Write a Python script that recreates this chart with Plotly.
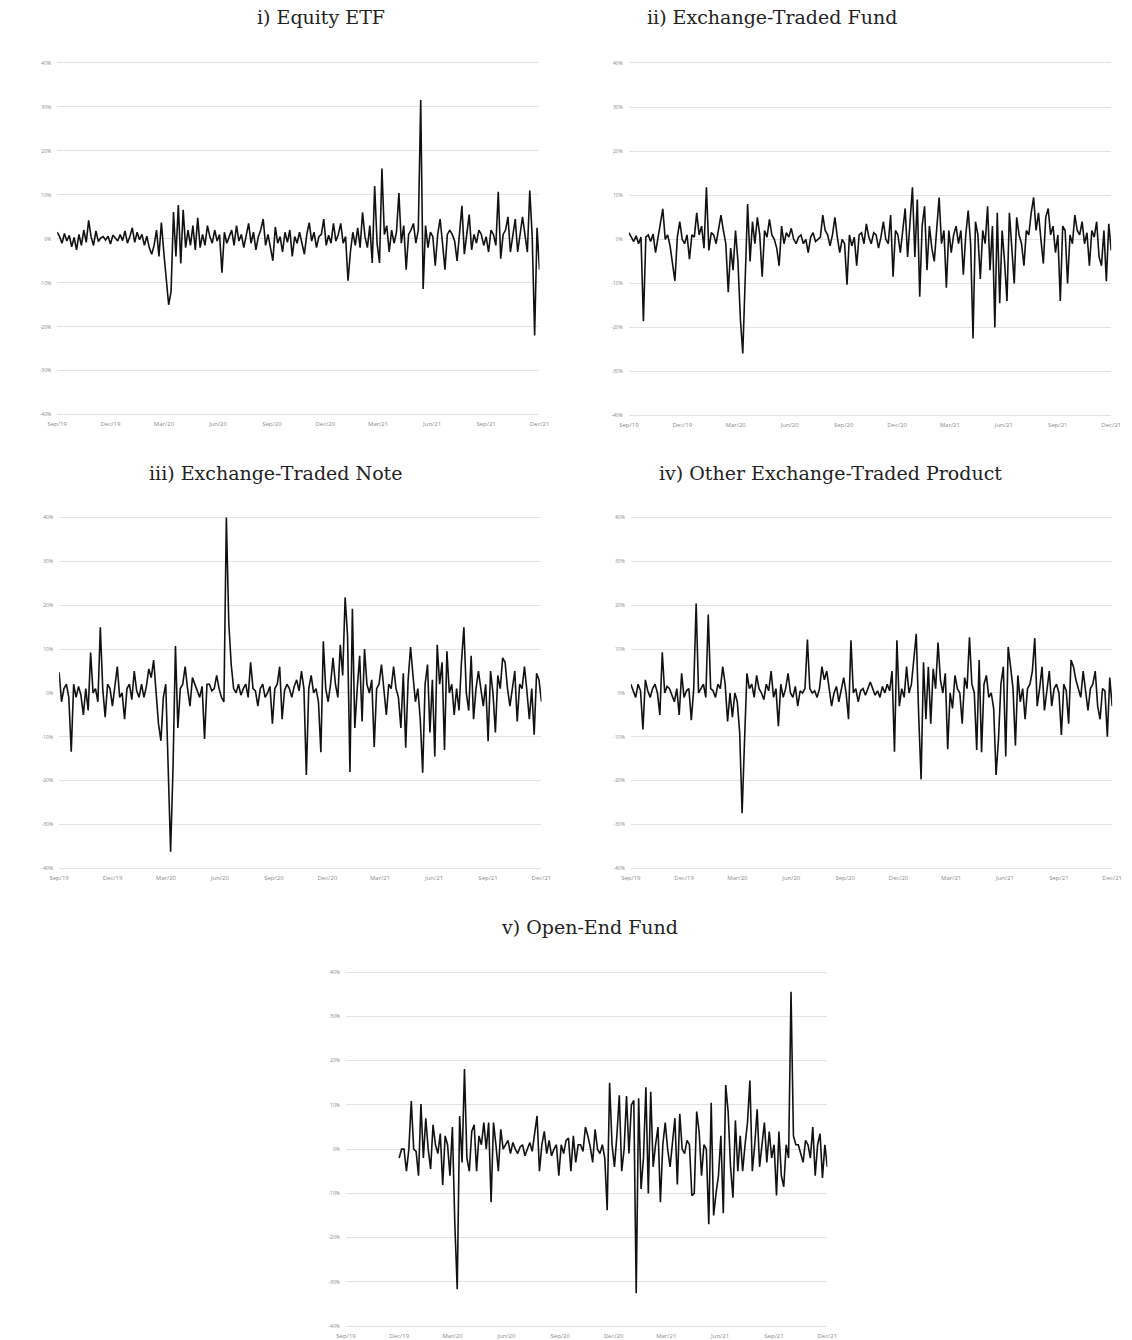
import pandas as pd
import plotly.graph_objects as go

# ---------------- data (daily-ish returns, %) ----------------
equity_etf = [
    1.5, 0.5, -1.0, 1.2, -0.5, 0.8, -1.8, 0.3, -2.5, 1.0,
    -1.5, 2.0, -0.8, 4.2, 0.5, -1.5, 1.8, -0.6, 0.2, 0.5,
    -0.3, 0.6, -1.2, 0.8, 0.2, -0.5, 1.0, -0.4, 1.8, -1.0,
    0.5, 2.5, -0.8, 1.5, -0.2, 1.0, -1.5, 0.6, -2.0, -3.5,
    -1.5, 2.0, -4.0, 3.7, -3.0, -10.0, -15.0, -12.0, 6.1, -4.0,
    7.7, -5.6, 6.6, -2.0, 2.0, -1.5, 3.0, -2.5, 4.8, -2.0,
    1.0, -1.5, 3.0, 0.5, -1.0, 2.0, -0.5, 1.0, -7.7, 1.5,
    -1.0, 0.5, 2.0, -1.5, 3.0, -0.5, 1.0, -2.0, 0.8, 3.5,
    -1.0, 1.5, -2.5, 0.5, 2.0, 4.5, -1.5, 1.0, -2.0, -5.0,
    2.7, -1.0, 0.5, -3.0, 1.5, -0.8, 2.0, -4.0, 0.5, -1.0,
    1.5, -1.0, -3.5, 1.0, 3.7, -0.5, 1.5, -2.0, 0.5, 1.0,
    4.5, -1.5, 0.8, -1.0, 3.5, -0.5, 1.0, 3.5, -1.0, 0.5,
    -9.5, -3.0, 1.5, -1.5, 2.5, -2.0, 6.0, 0.5, -2.0, 3.0,
    -5.5, 12.0, -1.0, -5.5, 16.0, 1.0, 3.0, -3.0, 2.0, -1.0,
    1.5, 10.4, -1.0, 3.0, -7.0, 1.0, 2.0, 3.5, -1.0, 2.0,
    31.6, -11.4, 3.0, -2.0, 1.5, 0.5, -6.1, 1.0, 4.5, -1.0,
    -7.0, 1.0, 2.0, 1.0, -0.5, -5.0, 2.0, 7.5, -3.5, 1.0,
    5.5, -2.5, 1.0, -1.0, 2.0, 1.0, -1.5, 0.5, -3.0, 2.0,
    1.0, -1.5, 10.7, -4.5, 1.0, 2.0, 5.0, -3.0, 1.0, 4.5,
    -3.0, 1.0, 5.0, 1.0, -3.0, 11.0, 0.5, -22.0, 2.5, -7.0,
]

exchange_traded_fund = [
    1.5, 0.5, -0.5, 0.8, -1.0, 0.5, -18.6, 0.5, 1.0, -0.5,
    1.2, -3.0, 0.5, 3.5, 6.9, 0.0, 1.0, -1.5, -5.0, -9.4,
    0.5, 4.0, 0.0, -1.0, 1.0, -4.5, 1.0, 0.5, 6.0, 1.0,
    3.0, -2.0, 11.8, -2.5, 1.5, 1.0, -1.0, 2.0, 5.5, 2.0,
    -1.0, -12.0, -2.0, -7.0, 2.0, -5.0, -18.0, -25.9, -10.0, 8.0,
    -5.0, 4.0, -1.0, 5.0, 1.0, -8.5, 2.0, 0.5, 4.5, 1.0,
    0.0, -2.0, -6.0, 3.0, -1.0, 1.5, 0.5, 2.5, 0.0, -1.0,
    0.5, 1.0, -1.0, 0.0, -3.0, 0.5, 1.5, -0.5, 0.0, 0.5,
    5.5, 2.0, 1.0, -1.5, 1.0, 5.0, 0.5, -3.0, 0.0, -1.0,
    -10.3, 1.0, -1.5, 0.5, -6.0, 1.0, 1.5, -1.0, 3.5, 0.5,
    -1.0, 1.5, 1.0, -2.0, 0.5, 4.0, 0.0, -1.0, 5.5, -8.5,
    2.0, 1.0, -3.0, 2.0, 7.0, -4.0, 4.0, 11.8, -4.0, 9.0,
    -13.0, 3.0, 7.5, -7.0, 3.0, -2.0, -5.0, 3.0, 9.5, -1.0,
    2.0, -11.0, 2.0, -3.0, 1.0, 3.0, -1.0, 2.0, -8.0, 1.0,
    6.5, -1.0, -22.5, 4.0, 1.0, -9.0, 2.0, -1.0, 7.5, -7.0,
    3.0, -20.0, 6.0, -14.5, 2.0, -5.0, -14.0, 6.0, -2.0, -10.0,
    5.0, 1.0, -1.0, -6.0, 2.0, 1.0, 6.0, 9.5, 2.0, 6.0,
    0.0, -5.5, 5.0, 7.0, 1.0, 3.0, -3.0, 1.0, -14.0, 3.0,
    2.0, -10.0, 1.0, -1.0, 5.5, 2.0, 1.0, 4.0, -1.0, 1.5,
    -6.0, 2.0, 0.5, 4.0, -4.0, -6.0, 2.0, -9.5, 3.5, -2.5,
]

exchange_traded_note = [
    4.7, -2.0, 1.0, 2.0, -1.0, -13.4, 2.0, -1.0, 1.5, -0.5,
    -5.0, 1.0, -4.0, 9.2, 0.0, 1.0, -2.0, 15.0, 1.0, -5.5,
    2.0, 1.0, -3.0, 1.0, 6.0, -1.0, 0.0, -6.0, 1.0, 2.0,
    -1.5, 5.0, 0.5, -1.0, 2.0, -1.0, 1.5, 5.5, 3.5, 7.5,
    1.0, -7.0, -10.9, -1.0, 2.0, -16.0, -36.2, -17.0, 10.7, -8.0,
    1.0, 2.0, 6.0, 1.0, -3.0, 3.5, 2.0, 0.5, -1.0, 1.5,
    -10.5, 2.0, 2.0, 0.5, 1.0, 4.0, 1.0, -1.0, -2.0, 40.0,
    16.0, 6.5, 1.0, 0.0, 2.0, -0.5, 1.0, 2.0, -1.0, 7.0,
    1.0, 0.5, -3.0, 1.0, 2.0, -1.0, 0.0, 1.5, -7.0, 1.0,
    2.0, 6.0, -6.0, 0.5, 2.0, 1.0, -1.0, 1.5, 3.0, 0.5,
    5.0, 1.0, -18.7, 1.0, 4.0, 0.0, 1.0, -2.0, -13.5, 11.8,
    1.0, -2.0, 2.0, 8.0, 2.0, -1.0, 11.0, 4.0, 21.8, 13.0,
    -18.0, 19.2, -8.0, 1.0, 8.5, -6.5, 10.0, 2.0, 0.0, 3.0,
    -12.3, 1.0, 2.0, 6.5, 0.5, -5.0, 2.0, 1.0, 6.0, 1.0,
    -1.0, -8.0, 4.5, -12.5, 3.0, 10.5, 4.0, -2.0, 1.0, -6.0,
    -18.2, 2.0, 6.5, -9.0, 3.0, -14.5, 11.0, 2.0, 7.0, -13.0,
    9.5, 0.0, 2.0, -5.0, 1.0, -4.0, 7.0, 15.0, 0.0, -4.0,
    8.5, -6.0, 1.0, 5.0, 1.0, -3.0, 2.0, -11.0, 5.0, 0.0,
    -9.0, 4.0, 1.0, 8.0, 7.0, 1.0, -3.0, 1.0, 5.0, -6.5,
    2.0, 1.0, 6.0, 0.5, -6.0, 1.0, -9.5, 4.5, 3.0, -2.0,
]

other_etp = [
    2.0, 0.5, -1.0, 2.0, 0.5, -8.3, 3.0, 0.5, -1.0, 1.0,
    2.0, 0.0, -5.0, 9.3, 0.0, 1.5, 1.0, -0.5, -2.0, 1.0,
    -5.0, 4.5, -1.0, 0.5, 1.0, -6.2, 1.0, 20.4, 0.0, 1.0,
    2.0, -1.0, 17.9, 1.0, 0.5, -1.0, 2.0, 1.0, 6.0, 2.0,
    -6.5, 0.0, -5.5, 0.0, -2.0, -9.0, -27.4, -11.0, 4.5, 1.0,
    2.0, -1.0, 4.0, 1.0, 0.0, -1.5, 2.0, 0.5, 5.0, -1.0,
    1.0, -7.6, 2.0, -1.0, 1.0, 4.5, 0.0, -1.0, 1.5, -3.0,
    0.5, 0.0, 1.0, 12.2, 1.0, 0.0, 0.5, -1.0, 1.0, 6.0,
    3.0, 5.0, 1.0, -3.0, 0.0, 1.5, -2.0, 1.0, 3.5, 0.0,
    -6.0, 12.0, 0.0, 1.0, -2.0, 0.5, 1.0, -0.5, 1.0, 2.5,
    1.0, -0.5, 0.5, -1.0, 1.5, 0.0, 2.0, 0.5, 5.0, -13.4,
    12.0, -3.0, 1.0, -1.0, 6.0, 0.0, 2.0, 7.0, 13.5, -5.0,
    -19.7, 7.0, -6.0, 6.0, -7.0, 5.5, 1.0, 11.5, 3.0, 0.0,
    4.5, -12.8, 0.0, -3.5, 4.0, 1.0, 0.0, -7.0, 3.5, 1.0,
    12.7, 2.0, 0.0, -13.0, 7.5, -13.5, 2.0, 4.0, -1.0, 0.0,
    -3.5, -18.7, -10.5, 2.0, 6.0, -14.5, 10.5, 6.0, 1.0, -12.0,
    4.0, -2.0, 1.0, -6.0, 1.0, 2.0, 5.0, 12.5, -3.0, 1.0,
    6.0, -4.0, 1.0, 5.0, -3.0, 1.0, 2.0, 0.0, -9.6, 2.0,
    0.5, -7.0, 7.5, 6.0, 3.0, 1.0, -1.0, 5.0, 1.0, -4.0,
    1.0, 2.0, 5.0, -3.0, -6.0, 1.0, 0.5, -10.0, 3.5, -3.0,
]

# open-end fund series begins later (observation 22 onward)
open_end_start = 22
open_end_fund = [
    -2.0, 0.0, 0.0, -5.0, 0.0, 10.9, 0.0, -0.5,
    -6.0, 10.2, -2.0, 7.0, 0.0, -4.5, 5.5, 1.0, -1.0, 3.5,
    -8.1, 3.0, 1.0, -6.0, 5.0, -16.8, -31.7, 7.5, -3.0, 18.1,
    -2.0, -5.0, 4.0, 5.5, -5.0, 3.0, 1.0, 6.0, 0.0, 6.0,
    -12.0, 6.0, 1.0, -5.0, 4.5, 0.0, 1.0, 2.0, -1.0, 1.5,
    0.0, -1.0, 0.5, 1.0, -1.5, 0.0, 1.5, -0.5, 3.0, 7.5,
    -5.0, 1.0, 4.0, -1.0, 2.0, -1.5, 0.0, 1.0, -6.0, 1.0,
    -1.0, 2.0, 2.5, -5.0, 3.0, -3.0, 1.0, 1.0, -0.5, 5.0,
    3.0, 0.5, -3.0, 4.5, 0.0, -1.0, 1.0, -2.0, -13.8, 15.0,
    1.0, -4.0, 3.0, 12.2, -5.0, 0.0, 12.0, -1.0, 10.0, 11.0,
    -32.6, 11.5, -9.0, -2.0, 14.0, -10.0, 13.0, -4.0, 1.0, 5.0,
    -12.0, 1.0, 6.0, 0.0, -4.0, 1.0, 7.0, -8.0, 8.0, 0.0,
    -1.0, 2.0, 1.0, -10.5, -10.0, 8.5, 4.0, -6.0, 1.0, 0.0,
    -17.0, 10.5, -15.0, -10.0, -6.0, 3.0, -14.5, 14.5, 8.5, -4.0,
    -11.0, 6.5, -5.0, 3.0, -5.0, 1.0, 6.0, 15.5, -5.0, 1.0,
    9.0, -4.0, 1.0, 6.0, -3.0, 4.0, -2.0, 1.0, -10.5, 4.0,
    -6.0, -8.5, 1.0, -2.0, 35.6, 3.0, 1.0, 1.0, -1.0, -3.0,
    2.0, 1.0, -2.0, 5.0, -6.0, 1.0, 3.5, -6.5, 1.0, -4.0,
]

titles = [
    "i) Equity ETF",
    "ii) Exchange-Traded Fund",
    "iii) Exchange-Traded Note",
    "iv) Other Exchange-Traded Product",
    "v) Open-End Fund",
]

tick_dates = ["2019-09-01", "2019-12-01", "2020-03-01", "2020-06-01", "2020-09-01",
              "2020-12-01", "2021-03-01", "2021-06-01", "2021-09-01", "2021-12-01"]
tick_text = ["Sep/19", "Dec/19", "Mar/20", "Jun/20", "Sep/20",
             "Dec/20", "Mar/21", "Jun/21", "Sep/21", "Dec/21"]
y_ticks = [40, 30, 20, 10, 0, -10, -20, -30, -40]
y_text = ["40%", "30%", "20%", "10%", "0%", "-10%", "-20%", "-30%", "-40%"]

# ---------------- figure ----------------
W, H = 1132, 1340
dates = pd.date_range("2019-09-01", "2021-12-01", periods=len(equity_etf))

series = [
    (dates, equity_etf),
    (dates, exchange_traded_fund),
    (dates, exchange_traded_note),
    (dates, other_etp),
    (dates[open_end_start:], open_end_fund),
]

# pixel boxes of the +-40% band of each plot area: (left, right, top, bottom)
boxes = [
    (48, 539, 62, 414),
    (630, 1121, 62, 415),
    (50, 541, 517, 868),
    (632, 1122, 517, 868),
    (342, 832, 972, 1326),
]
title_pos = [(317, 16), (776, 16), (271, 472), (835, 472), (590, 927)]
PAD = 0.6  # small extra range so edge gridlines are drawn

fig = go.Figure()
for i, ((xs, ys), (l, r, t, b)) in enumerate(zip(series, boxes)):
    n = "" if i == 0 else str(i + 1)
    ppu = (b - t) / 80.0
    t2, b2 = t - PAD * ppu, b + PAD * ppu
    fig.add_trace(go.Scatter(
        x=xs, y=ys, mode="lines",
        line=dict(color="#111111", width=1.6),
        xaxis="x" + n, yaxis="y" + n, showlegend=False, hoverinfo="skip",
    ))
    fig.update_layout(**{
        "xaxis" + n: dict(
            domain=[l / W, r / W], anchor="y" + n,
            range=[tick_dates[0], tick_dates[-1]],
            tickvals=tick_dates, ticktext=tick_text,
            showgrid=False, zeroline=False, showline=False, ticks="",
            tickfont=dict(size=6, color="#8a8a8a", family="Open Sans"),
            tickangle=0, ticklabelstandoff=2,
        ),
        "yaxis" + n: dict(
            domain=[1 - b2 / H, 1 - t2 / H], anchor="x" + n,
            range=[-40 - PAD, 40 + PAD], tickvals=y_ticks, ticktext=y_text,
            showgrid=True, gridcolor="#e2e2e2", gridwidth=1,
            zeroline=False, showline=False, ticks="",
            tickfont=dict(size=5, color="#8a8a8a", family="Open Sans"),
            ticklabelstandoff=5,
        ),
    })

for text, (px, py) in zip(titles, title_pos):
    fig.add_annotation(
        text=text, x=px / W, y=1 - py / H, xref="paper", yref="paper",
        xanchor="center", yanchor="middle", showarrow=False,
        font=dict(family="DejaVu Serif", size=19, color="#222222"),
    )

fig.update_layout(
    width=W, height=H,
    margin=dict(l=0, r=0, t=0, b=0),
    paper_bgcolor="white", plot_bgcolor="white",
    showlegend=False,
)

fig.write_html("out.html")
